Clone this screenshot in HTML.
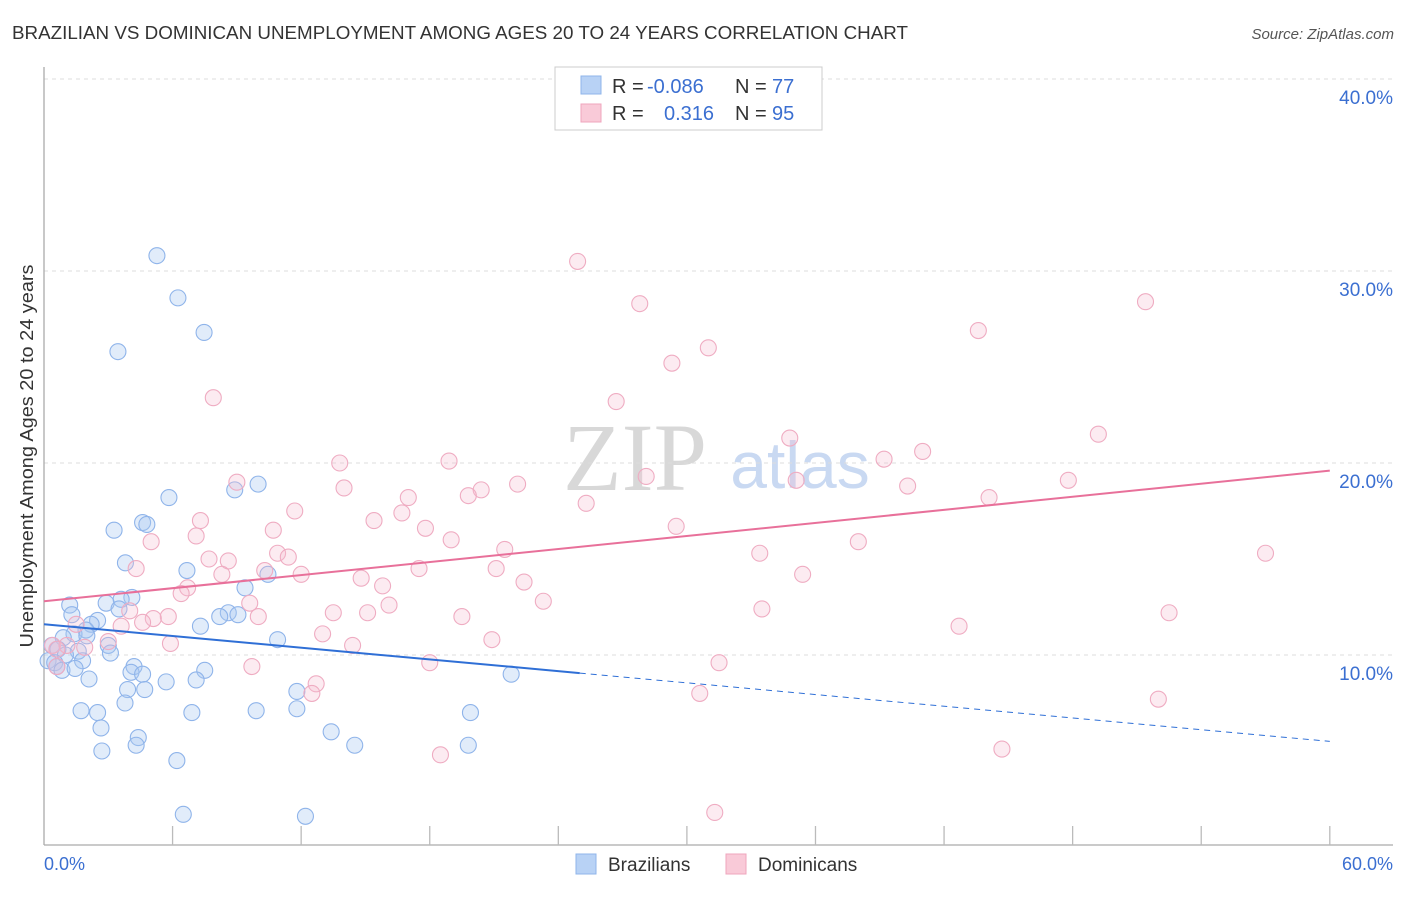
<!DOCTYPE html>
<html><head><meta charset="utf-8"><style>
body{margin:0;background:#fff;font-family:"Liberation Sans",sans-serif}
</style></head><body>
<svg id="chart" width="1406" height="892" xmlns="http://www.w3.org/2000/svg" font-family="Liberation Sans, sans-serif">
<text x="12" y="39" font-size="18" fill="#333" textLength="896" lengthAdjust="spacingAndGlyphs">BRAZILIAN VS DOMINICAN UNEMPLOYMENT AMONG AGES 20 TO 24 YEARS CORRELATION CHART</text>
<text x="1394" y="39" font-size="15" fill="#555" font-style="italic" text-anchor="end">Source: ZipAtlas.com</text>
<text x="635" y="490" font-size="96" fill="#d8d8d8" font-family="Liberation Serif, serif" text-anchor="middle">ZIP</text>
<text x="800" y="488" font-size="66" fill="#c9d9f2" text-anchor="middle">atlas</text>
<g id="grid"></g>
<line x1="44" y1="67" x2="44" y2="845" stroke="#aaa" stroke-width="1.3"/>
<line x1="44" y1="845" x2="1393" y2="845" stroke="#aaa" stroke-width="1.3"/>
<g id="xticks"></g>
<text x="33" y="456" font-size="18" fill="#333" text-anchor="middle" textLength="383" lengthAdjust="spacingAndGlyphs" transform="rotate(-90 33 456)">Unemployment Among Ages 20 to 24 years</text>
<text x="44" y="870" font-size="18" fill="#3b6fd1">0.0%</text>
<text x="1393" y="870" font-size="18" fill="#3b6fd1" text-anchor="end">60.0%</text>
<g id="pts"></g>
<g id="trends"></g>
<g>
<rect x="555" y="67" width="267" height="63" fill="#fff" stroke="#ccc"/>
<rect x="581" y="76" width="20" height="18" fill="#b8d2f5" stroke="#8fb4ea"/>
<rect x="581" y="104" width="20" height="18" fill="#f9cad8" stroke="#efa5bd"/>
<text y="93" font-size="20" fill="#333"><tspan x="612">R = </tspan><tspan x="647" fill="#3b6fd1">-0.086</tspan><tspan x="735">N = </tspan><tspan x="772" fill="#3b6fd1">77</tspan></text>
<text y="120" font-size="20" fill="#333"><tspan x="612">R = </tspan><tspan x="664" fill="#3b6fd1">0.316</tspan><tspan x="735">N = </tspan><tspan x="772" fill="#3b6fd1">95</tspan></text>
</g>
<g>
<rect x="576" y="854" width="20" height="20" fill="#b8d2f5" stroke="#8fb4ea"/>
<text x="608" y="871" font-size="19" fill="#333">Brazilians</text>
<rect x="726" y="854" width="20" height="20" fill="#f9cad8" stroke="#efa5bd"/>
<text x="758" y="871" font-size="19" fill="#333">Dominicans</text>
</g>
</svg>
<script>
const yTicks=[10,20,30,40];
const yTickLabels=["10.0%","20.0%","30.0%","40.0%"];
const xTicks=[6,12,18,24,30,36,42,48,54,60];
const blueX=[5.27,6.25,7.47,3.45,5.83,8.9,9.99,4.6,4.8,3.27,3.8,6.67,10.45,9.38,4.1,3.6,2.9,1.2,3.5,8.6,9.05,8.2,1.3,7.3,2.5,2.2,1.96,1.4,0.9,2.0,10.9,3.0,0.37,0.65,1.6,3.1,1.0,0.19,0.5,1.8,0.6,0.84,1.45,4.2,4.06,7.5,4.6,21.8,2.1,5.7,7.1,3.9,4.7,11.8,3.78,1.73,6.9,9.9,11.8,2.5,19.9,2.66,4.4,13.4,4.3,14.5,19.8,2.7,6.2,6.5,12.2];
const blueY=[30.8,28.6,26.8,25.8,18.2,18.6,18.9,16.9,16.8,16.5,14.8,14.4,14.2,13.5,13.0,12.9,12.7,12.6,12.4,12.2,12.1,12.0,12.1,11.5,11.8,11.6,11.3,11.1,10.9,11.0,10.8,10.5,10.5,10.3,10.2,10.1,10.0,9.7,9.6,9.7,9.4,9.2,9.3,9.4,9.1,9.2,9.0,9.0,8.75,8.6,8.7,8.2,8.2,8.1,7.5,7.1,7.0,7.1,7.2,7.0,7.0,6.2,5.7,6.0,5.3,5.3,5.3,5.0,4.5,1.7,1.6];
const pinkX=[24.9,27.8,51.4,43.6,31.0,29.3,26.7,7.9,34.8,49.2,41.0,39.2,13.8,18.9,9.0,28.1,35.1,47.8,14.0,20.4,22.1,40.3,19.8,17.0,44.1,25.3,11.7,16.7,7.3,15.4,17.8,29.5,10.7,7.1,5.0,19.0,38.0,21.5,10.9,11.4,33.4,57.0,7.7,8.6,4.3,17.5,10.3,21.1,8.3,12.0,35.4,14.8,15.8,22.4,6.7,6.4,9.6,23.3,16.1,4.0,15.1,13.5,33.5,52.5,10.0,5.8,5.1,4.6,19.5,1.5,3.6,42.7,13.0,20.9,14.4,5.9,3.0,0.4,1.07,1.9,0.6,0.6,9.7,18.0,31.5,12.7,12.5,30.6,52.0,44.7,18.5,31.3];
const pinkY=[30.5,28.3,28.4,26.9,26.0,25.2,23.2,23.4,21.3,21.5,20.6,20.2,20.0,20.1,19.0,19.3,19.1,19.1,18.7,18.6,18.9,18.8,18.3,18.2,18.2,17.9,17.5,17.4,17.0,17.0,16.6,16.7,16.5,16.2,15.9,16.0,15.9,15.5,15.3,15.1,15.3,15.3,15.0,14.9,14.5,14.5,14.4,14.5,14.2,14.2,14.2,14.0,13.6,13.8,13.5,13.2,12.7,12.8,12.6,12.3,12.2,12.2,12.4,12.2,12.0,12.0,11.9,11.7,12.0,11.6,11.5,11.5,11.1,10.8,10.5,10.6,10.7,10.5,10.5,10.4,10.3,9.4,9.4,9.6,9.6,8.5,8.0,8.0,7.7,5.1,4.8,1.8];
const blueTrend=[11.6,5.5];
const pinkTrend=[12.8,19.6];
const blueSolidEnd=25;
const X=v=>44+v*21.43, Y=v=>847-v*19.2;
const NS="http://www.w3.org/2000/svg";
function mk(t,a,p){const e=document.createElementNS(NS,t);for(const k in a)e.setAttribute(k,a[k]);p.appendChild(e);return e;}
const grid=document.getElementById('grid');
yTicks.forEach((t,i)=>{
 const l=mk('line',{x1:44,x2:1393,y1:Y(t),y2:Y(t),stroke:'#ddd','stroke-dasharray':'4,4'},grid);
 
 
 const tx=mk('text',{x:1393,y:Y(t)+25,'font-size':19,fill:'#3b6fd1','text-anchor':'end'},grid);
 tx.textContent=yTickLabels[i];
 
 
});
const xt=document.getElementById('xticks');
xTicks.forEach(t=>{
 const l=mk('line',{x1:X(t),x2:X(t),y1:826,y2:845,stroke:'#bbb','stroke-width':1.3},xt);
 
 
});
const pts=document.getElementById('pts');
function draw(xs,ys,fill,stroke,name){xs.forEach((x,i)=>{
 const c=mk('circle',{cx:X(x),cy:Y(ys[i]),r:8,fill:fill,stroke:stroke,'stroke-width':1.1},pts);
 
 
});}
draw(blueX,blueY,'rgba(170,200,242,0.35)','#8fb4ea','brazilian-point');
draw(pinkX,pinkY,'rgba(246,190,210,0.3)','#efacc2','dominican-point');
const tr=document.getElementById('trends');
const bAt=x=>blueTrend[0]+(blueTrend[1]-blueTrend[0])*x/60;
let l1=mk('line',{x1:X(0),y1:Y(bAt(0)),x2:X(blueSolidEnd),y2:Y(bAt(blueSolidEnd)),stroke:'#2f6fd6','stroke-width':2},tr);


let l2=mk('line',{x1:X(blueSolidEnd),y1:Y(bAt(blueSolidEnd)),x2:X(60),y2:Y(bAt(60)),stroke:'#2f6fd6','stroke-width':1,'stroke-dasharray':'6,5'},tr);


let l3=mk('line',{x1:X(0),y1:Y(pinkTrend[0]),x2:X(60),y2:Y(pinkTrend[1]),stroke:'#e8709a','stroke-width':2},tr);


</script>
</body></html>
